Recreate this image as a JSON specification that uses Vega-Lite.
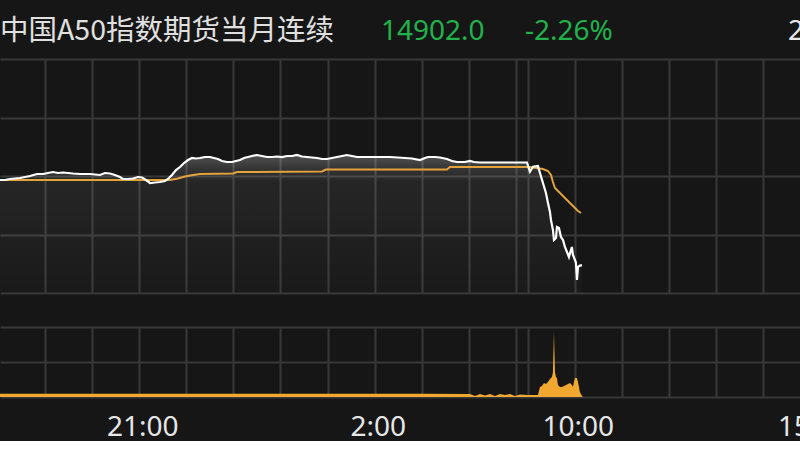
{
  "$schema": "https://vega.github.io/schema/vega-lite/v6.json",
  "background": "#161616",
  "padding": 0,
  "spacing": 0,
  "bounds": "flush",
  "config": {
    "view": {"stroke": null},
    "axis": {"domain": false, "ticks": false, "tickSize": 0, "title": null}
  },
  "datasets": {
    "header": [
      {"kind": "name", "label": "中国A50指数期货当月连续", "t": 62.7},
      {"kind": "quote", "label": "14902.0", "t": 548.1},
      {"kind": "quote", "label": "-2.26%", "t": 731.5},
      {"kind": "time", "label": "2", "t": 1066.5}
    ],
    "price": [
      {"t": 62.7, "price": 15231.5}, {"t": 69.0, "price": 15231.5}, {"t": 75.4, "price": 15235.4},
      {"t": 81.8, "price": 15237.3}, {"t": 88.2, "price": 15239.3}, {"t": 94.5, "price": 15243.1},
      {"t": 100.9, "price": 15247.0}, {"t": 109.8, "price": 15254.7}, {"t": 117.5, "price": 15254.7},
      {"t": 123.8, "price": 15258.6}, {"t": 130.2, "price": 15262.5}, {"t": 136.6, "price": 15258.6},
      {"t": 142.9, "price": 15260.5}, {"t": 149.3, "price": 15258.6}, {"t": 155.7, "price": 15256.7},
      {"t": 164.6, "price": 15254.7}, {"t": 177.3, "price": 15254.7}, {"t": 190.1, "price": 15250.9},
      {"t": 196.4, "price": 15258.6}, {"t": 202.8, "price": 15256.7}, {"t": 209.2, "price": 15250.9},
      {"t": 215.5, "price": 15243.1}, {"t": 219.4, "price": 15235.4}, {"t": 225.7, "price": 15235.4},
      {"t": 232.1, "price": 15237.3}, {"t": 238.5, "price": 15243.1}, {"t": 243.6, "price": 15241.2},
      {"t": 248.7, "price": 15231.5}, {"t": 253.8, "price": 15219.9}, {"t": 260.1, "price": 15221.8},
      {"t": 266.5, "price": 15223.8}, {"t": 272.9, "price": 15227.7}, {"t": 276.7, "price": 15235.4},
      {"t": 281.8, "price": 15250.9}, {"t": 286.9, "price": 15270.2}, {"t": 292.0, "price": 15281.8},
      {"t": 297.1, "price": 15297.3}, {"t": 302.2, "price": 15308.9}, {"t": 307.3, "price": 15316.7},
      {"t": 312.4, "price": 15314.7}, {"t": 317.5, "price": 15316.7}, {"t": 323.8, "price": 15320.5},
      {"t": 330.2, "price": 15320.5}, {"t": 335.3, "price": 15316.7}, {"t": 340.4, "price": 15312.8},
      {"t": 345.5, "price": 15305.1}, {"t": 351.9, "price": 15301.2}, {"t": 358.2, "price": 15301.2},
      {"t": 363.3, "price": 15305.1}, {"t": 368.4, "price": 15308.9}, {"t": 373.5, "price": 15316.7},
      {"t": 378.6, "price": 15320.5}, {"t": 383.7, "price": 15324.4}, {"t": 390.1, "price": 15328.3},
      {"t": 396.4, "price": 15324.4}, {"t": 402.8, "price": 15320.5}, {"t": 409.2, "price": 15320.5},
      {"t": 415.6, "price": 15322.5}, {"t": 421.9, "price": 15320.5}, {"t": 428.3, "price": 15324.4},
      {"t": 434.7, "price": 15324.4}, {"t": 441.0, "price": 15328.3}, {"t": 447.4, "price": 15322.5},
      {"t": 453.8, "price": 15320.5}, {"t": 460.1, "price": 15318.6}, {"t": 466.5, "price": 15316.7},
      {"t": 472.9, "price": 15312.8}, {"t": 479.2, "price": 15312.8}, {"t": 485.6, "price": 15316.7},
      {"t": 492.0, "price": 15320.5}, {"t": 498.4, "price": 15324.4}, {"t": 504.7, "price": 15328.3},
      {"t": 511.1, "price": 15324.4}, {"t": 517.5, "price": 15320.5}, {"t": 523.8, "price": 15320.5},
      {"t": 534.0, "price": 15320.5}, {"t": 546.8, "price": 15320.5}, {"t": 559.5, "price": 15320.5},
      {"t": 569.7, "price": 15318.6}, {"t": 578.6, "price": 15316.7}, {"t": 587.5, "price": 15314.7},
      {"t": 597.7, "price": 15308.9}, {"t": 604.1, "price": 15316.7}, {"t": 608.0, "price": 15320.5},
      {"t": 616.8, "price": 15320.5}, {"t": 623.2, "price": 15318.6}, {"t": 632.1, "price": 15312.8},
      {"t": 638.5, "price": 15305.1}, {"t": 644.9, "price": 15301.2}, {"t": 655.0, "price": 15301.2},
      {"t": 661.4, "price": 15305.1}, {"t": 666.5, "price": 15301.2}, {"t": 674.2, "price": 15299.2},
      {"t": 699.6, "price": 15299.2}, {"t": 725.1, "price": 15299.2}, {"t": 734.0, "price": 15299.2},
      {"t": 737.8, "price": 15263.6}, {"t": 741.7, "price": 15283.0}, {"t": 748.0, "price": 15285.7},
      {"t": 750.6, "price": 15258.6}, {"t": 754.4, "price": 15219.9}, {"t": 758.2, "price": 15181.2},
      {"t": 760.8, "price": 15142.5}, {"t": 763.3, "price": 15107.7}, {"t": 764.6, "price": 15076.7},
      {"t": 767.1, "price": 15038.0}, {"t": 768.4, "price": 14999.3}, {"t": 771.0, "price": 15007.1},
      {"t": 772.2, "price": 15049.6}, {"t": 774.8, "price": 15045.8}, {"t": 777.3, "price": 15010.9},
      {"t": 779.9, "price": 14999.3}, {"t": 782.4, "price": 14972.2}, {"t": 785.0, "price": 14952.9},
      {"t": 787.5, "price": 14933.5}, {"t": 790.1, "price": 14960.6}, {"t": 791.3, "price": 14972.2},
      {"t": 792.6, "price": 14941.3}, {"t": 795.2, "price": 14921.9}, {"t": 796.4, "price": 14910.3},
      {"t": 797.7, "price": 14844.5}, {"t": 799.0, "price": 14894.8}, {"t": 801.5, "price": 14900.0},
      {"t": 804.1, "price": 14902.0}
    ],
    "avg": [
      {"t": 62.7, "avg": 15231.5}, {"t": 279.2, "avg": 15231.5}, {"t": 289.4, "avg": 15237.3},
      {"t": 298.3, "avg": 15245.1}, {"t": 304.7, "avg": 15248.9}, {"t": 317.5, "avg": 15254.7},
      {"t": 359.5, "avg": 15256.7}, {"t": 364.6, "avg": 15262.5}, {"t": 472.9, "avg": 15264.4},
      {"t": 478.0, "avg": 15272.2}, {"t": 632.1, "avg": 15272.2}, {"t": 635.9, "avg": 15281.8},
      {"t": 734.0, "avg": 15281.8}, {"t": 737.8, "avg": 15281.8}, {"t": 745.5, "avg": 15278.0},
      {"t": 754.4, "avg": 15274.1}, {"t": 760.8, "avg": 15266.4}, {"t": 764.6, "avg": 15250.9},
      {"t": 767.1, "avg": 15223.8}, {"t": 769.7, "avg": 15200.6}, {"t": 776.1, "avg": 15181.2},
      {"t": 782.4, "avg": 15161.9}, {"t": 788.8, "avg": 15142.5}, {"t": 795.2, "avg": 15123.2},
      {"t": 799.0, "avg": 15111.6}, {"t": 802.8, "avg": 15103.8}
    ],
    "vol": [
      {"t": 62.7, "v": 32}, {"t": 200, "v": 32}, {"t": 400, "v": 32}, {"t": 600, "v": 32},
      {"t": 661.4, "v": 30}, {"t": 667.8, "v": 10}, {"t": 674.2, "v": 30}, {"t": 680.5, "v": 15},
      {"t": 686.9, "v": 30}, {"t": 693.3, "v": 10}, {"t": 699.6, "v": 30}, {"t": 706.0, "v": 20},
      {"t": 712.4, "v": 30}, {"t": 718.7, "v": 10}, {"t": 725.1, "v": 25}, {"t": 734.0, "v": 20},
      {"t": 740.4, "v": 20}, {"t": 746.8, "v": 20}, {"t": 748.0, "v": 20}, {"t": 750.6, "v": 100},
      {"t": 753.1, "v": 110}, {"t": 755.7, "v": 140}, {"t": 758.2, "v": 130}, {"t": 760.8, "v": 150},
      {"t": 763.3, "v": 180}, {"t": 765.9, "v": 200}, {"t": 767.1, "v": 250}, {"t": 768.4, "v": 650},
      {"t": 769.7, "v": 250}, {"t": 771.0, "v": 200}, {"t": 772.2, "v": 190}, {"t": 773.5, "v": 120},
      {"t": 776.1, "v": 100}, {"t": 778.6, "v": 100}, {"t": 781.2, "v": 110}, {"t": 783.7, "v": 120},
      {"t": 786.3, "v": 130}, {"t": 788.8, "v": 140}, {"t": 791.3, "v": 120}, {"t": 792.6, "v": 100},
      {"t": 793.9, "v": 150}, {"t": 795.2, "v": 190}, {"t": 797.7, "v": 190}, {"t": 799.0, "v": 150},
      {"t": 801.5, "v": 50}, {"t": 804.1, "v": 10}, {"t": 805.4, "v": 0}
    ]
  },
  "vconcat": [
    {
      "width": 840,
      "height": 59,
      "data": {"name": "header"},
      "layer": [
        {
          "transform": [{"filter": "datum.kind == 'name'"}],
          "mark": {"type": "text", "align": "left", "baseline": "alphabetic", "dy": 10, "font": "Noto Sans CJK SC", "fontSize": 28.5, "color": "#e0e0e0"},
          "encoding": {
            "x": {"field": "t", "type": "quantitative", "scale": {"domain": [62.7, 1132.8], "nice": false, "zero": false}, "axis": null},
            "text": {"field": "label"}
          }
        },
        {
          "transform": [{"filter": "datum.kind == 'quote'"}],
          "mark": {"type": "text", "align": "left", "baseline": "alphabetic", "dy": 10.5, "font": "Noto Sans", "fontSize": 28, "color": "#21b24b"},
          "encoding": {
            "x": {"field": "t", "type": "quantitative", "scale": {"domain": [62.7, 1132.8], "nice": false, "zero": false}, "axis": null},
            "text": {"field": "label"}
          }
        },
        {
          "transform": [{"filter": "datum.kind == 'time'"}],
          "mark": {"type": "text", "align": "left", "baseline": "alphabetic", "dy": 10.5, "font": "Noto Sans", "fontSize": 28, "color": "#e8e8e8"},
          "encoding": {
            "x": {"field": "t", "type": "quantitative", "scale": {"domain": [62.7, 1132.8], "nice": false, "zero": false}, "axis": null},
            "text": {"field": "label"}
          }
        }
      ]
    },
    {
      "spacing": 34,
      "bounds": "flush",
      "vconcat": [
        {
          "width": 840,
          "height": 234,
          "layer": [
            {
              "data": {"name": "price"},
              "mark": {
                "type": "area",
                "clip": true,
                "color": {
                  "gradient": "linear", "x1": 0, "y1": 0, "x2": 0, "y2": 1,
                  "stops": [
                    {"offset": 0, "color": "rgba(255,255,255,0.26)"},
                    {"offset": 0.1, "color": "rgba(255,255,255,0.13)"},
                    {"offset": 0.2, "color": "rgba(255,255,255,0.065)"},
                    {"offset": 1, "color": "rgba(255,255,255,0.015)"}
                  ]
                }
              },
              "encoding": {
                "x": {
                  "field": "t", "type": "quantitative",
                  "scale": {"domain": [62.7, 1132.8], "nice": false, "zero": false},
                  "axis": {"values": [120, 180, 240, 300, 360, 420, 480, 540, 600, 660, 720, 735, 795, 855, 915, 975, 1035, 1095], "grid": true, "gridColor": "#383838", "gridWidth": 2, "labels": false}
                },
                "y": {
                  "field": "price", "type": "quantitative",
                  "scale": {"domain": [14794, 15700], "nice": false, "zero": false},
                  "axis": {"values": [14794, 15020.5, 15247, 15473.5, 15700], "grid": true, "gridColor": "#383838", "gridWidth": 2, "labels": false}
                },
                "y2": {"datum": 14794}
              }
            },
            {
              "data": {"name": "avg"},
              "mark": {"type": "line", "color": "#e3a23c", "strokeWidth": 2, "clip": true},
              "encoding": {
                "x": {"field": "t", "type": "quantitative"},
                "y": {"field": "avg", "type": "quantitative"}
              }
            },
            {
              "data": {"name": "price"},
              "mark": {"type": "line", "color": "#ffffff", "strokeWidth": 2.2, "clip": true},
              "encoding": {
                "x": {"field": "t", "type": "quantitative"},
                "y": {"field": "price", "type": "quantitative"}
              }
            }
          ]
        },
        {
          "width": 840,
          "height": 70,
          "data": {"name": "vol"},
          "mark": {"type": "area", "color": "#f0a830", "clip": true},
          "encoding": {
            "x": {
              "field": "t", "type": "quantitative",
              "scale": {"domain": [62.7, 1132.8], "nice": false, "zero": false},
              "axis": {
                "values": [120, 180, 240, 300, 360, 420, 480, 540, 600, 660, 720, 735, 795, 855, 915, 975, 1035, 1095],
                "grid": true, "gridColor": "#383838", "gridWidth": 2,
                "labels": true,
                "labelExpr": "datum.value == 240 ? '21:00' : datum.value == 540 ? '2:00' : datum.value == 795 ? '10:00' : datum.value == 1095 ? '15:00' : ''",
                "labelFont": "Noto Sans", "labelFontSize": 28, "labelColor": "#e6e6e6",
                "labelPadding": 16, "labelOffset": 3, "labelFlush": false, "labelOverlap": false, "labelBound": false
              }
            },
            "y": {
              "field": "v", "type": "quantitative",
              "scale": {"domain": [0, 700], "nice": false},
              "axis": {"values": [0, 350, 700], "grid": true, "gridColor": "#383838", "gridWidth": 2, "labels": false}
            }
          }
        }
      ]
    }
  ]
}
